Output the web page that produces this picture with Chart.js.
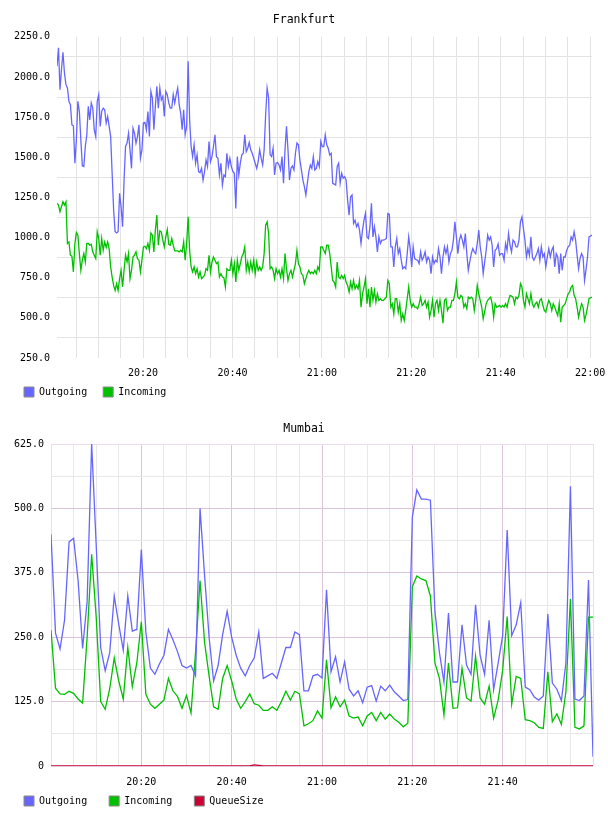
<!DOCTYPE html>
<html><head><meta charset="utf-8">
<script src="https://cdn.jsdelivr.net/npm/chart.js@4.4.1/dist/chart.umd.min.js"></script>
<style>
html,body{margin:0;padding:0;background:#fff;}
canvas{display:block;}
</style></head>
<body>
<canvas id="frankfurt" width="608" height="408"></canvas>
<canvas id="mumbai" width="608" height="408"></canvas>
<script>
// ---------- data ----------
const seriesNames = ['Outgoing', 'Incoming', 'QueueSize'];
const FRANKFURT_START_MIN = 0.75;   // minutes after 20:00 (20:00:45)
const FRANKFURT_STEP_MIN = 1 / 3;   // 20 s samples
const frankfurtOutgoing = [
2067,2181,1921,2046,2154,2025,1952,1931,1848,1827,
1702,1696,1463,1608,1848,1785,1608,1446,1442,1567,
1640,1817,1733,1838,1806,1671,1629,1848,1890,1692,
1785,1806,1796,1713,1754,1692,1629,1400,1171,1036,
1029,1036,1275,1192,1067,1358,1567,1588,1650,1546,
1431,1681,1650,1588,1629,1702,1494,1546,1713,1717,
1671,1785,1629,1910,1869,1671,1817,1942,1806,1931,
1858,1879,1754,1910,1890,1838,1806,1806,1890,1838,
1890,1931,1827,1775,1671,1796,1640,1692,2098,
1733,1567,1504,1577,1463,1515,1411,1404,1431,1358,
1411,1483,1442,1598,1473,1504,1567,1640,1504,1494,
1390,1463,1327,1390,1379,1525,1442,1494,1442,1411,
1400,1181,1504,1390,1463,1515,1525,1640,1535,1556,
1592,1546,1525,1494,1463,1431,1473,1546,1494,1452,
1546,1765,1931,1869,1515,1504,1556,1390,1463,1467,
1452,1421,1504,1338,1546,1692,1546,1358,1431,1446,
1421,1525,1588,1577,1483,1421,1358,1317,1265,1338,
1411,1452,1431,1504,1421,1431,1473,1442,1598,
1567,1567,1640,1577,1556,1515,1525,1338,1333,1327,
1442,1463,1338,1400,1369,1379,1358,1233,1140,1254,
1265,1088,1108,1067,1088,1046,963,1046,1108,1150,
1004,994,1067,1213,1004,1067,1004,911,1004,963,
984,984,988,994,1150,1146,942,942,817,942,
994,900,931,859,806,817,806,900,1004,931,
817,942,869,863,859,838,911,859,879,911,
848,879,859,775,879,838,859,848,931,879,
775,879,942,900,942,848,900,921,
984,1098,1004,900,984,1015,984,942,1025,900,
796,850,900,931,911,900,963,1046,942,879,
775,850,921,1015,984,1004,952,817,921,931,
960,890,900,900,859,963,921,1025,952,910,
984,973,942,942,984,1098,1129,1056,984,879,
930,890,1004,879,859,879,900,931,859,942,
880,900,817,879,931,879,921,942,817,900,
879,775,900,796,879,879,920,942,952,1004,
984,1036,984,890,806,870,900,879,733,800,
879,1004,1010,1015
];
const frankfurtIncoming = [
1213,1202,1161,1192,1223,1202,1223,963,973,
890,884,786,963,1031,1015,900,796,859,900,
848,963,963,952,958,911,890,869,1036,994,
890,994,921,973,938,973,931,817,754,702,
671,713,671,744,796,692,796,890,848,900,
744,796,879,890,911,869,859,786,859,942,
946,931,963,921,1029,1015,911,1046,1140,952,
1042,1036,984,942,1004,1050,958,952,994,952,
917,917,917,911,921,911,973,859,963,1129,
921,817,786,817,775,806,754,786,744,754,
765,806,796,890,786,848,879,859,838,848,
754,775,754,750,692,806,796,796,859,775,
838,723,859,796,838,879,900,942,796,848,
786,848,796,859,775,848,796,817,796,817,
900,1077,1098,1025,806,817,796,744,806,775,
796,754,806,744,900,806,733,775,796,754,
796,838,921,838,817,775,765,713,744,775,
796,775,786,775,796,775,817,796,942,
942,921,900,952,952,900,817,733,723,692,
848,754,744,765,744,765,723,702,661,723,
681,733,681,702,681,733,567,650,692,744,
588,681,567,692,609,671,598,650,609,619,
609,609,619,629,733,713,567,588,525,619,
619,536,588,484,525,484,546,619,692,609,
567,588,567,567,557,588,629,577,588,609,
567,598,504,546,609,504,588,609,546,609,
546,467,609,619,546,567,567,609,
609,650,723,629,619,640,629,567,588,557,
629,620,629,619,546,609,702,650,609,567,
494,540,588,609,619,629,588,504,588,567,
570,577,567,577,567,588,567,609,640,635,
629,588,629,619,640,713,692,609,567,650,
620,588,650,588,567,588,598,567,609,619,
580,546,536,577,609,588,546,588,567,540,
515,588,473,567,577,588,620,650,661,692,
702,640,619,567,504,550,588,567,484,520,
567,619,625,629
];

const MUMBAI_START_MIN = 0;   // 20:00
const MUMBAI_STEP_MIN = 1;    // 1 min samples
const mumbaiOutgoing = [
450,258,227,283,435,442,360,228,320,625,
430,230,185,220,330,275,225,330,262,265,
420,260,190,178,198,215,265,245,222,195,
190,195,175,500,370,250,165,195,255,300,
250,215,190,175,195,210,260,170,175,180,
170,200,230,230,260,255,146,146,175,178,
171,342,183,212,163,202,149,136,146,123,
153,156,126,155,146,157,144,136,127,129,
483,536,518,518,516,300,220,163,297,163,
163,274,196,178,313,215,178,283,148,200,
253,458,253,274,317,153,148,134,128,136,
295,161,149,127,200,543,130,127,136,361,
18
];
const mumbaiIncoming = [
264,151,140,139,145,141,130,122,250,411,
290,125,110,150,210,165,130,230,154,200,
280,139,120,112,120,128,170,146,135,112,
137,103,220,360,240,175,115,110,170,195,
165,130,112,125,140,121,118,108,108,115,
108,125,145,128,145,140,78,82,88,107,
93,206,113,134,115,128,97,93,95,78,
97,104,88,104,91,101,91,85,76,83,
348,369,363,360,330,200,170,99,200,112,
113,190,132,126,213,132,120,155,93,128,
186,290,120,174,170,90,88,84,75,73,
183,86,101,81,144,324,75,72,78,289,
289
];
const mumbaiQueueSize = [
0,0,0,0,0,0,0,0,0,0,
0,0,0,0,0,0,0,0,0,0,
0,0,0,0,0,0,0,0,0,0,
0,0,0,0,0,0,0,0,0,0,
0,0,0,0,0,2,1,0,0,0,
0,0,0,0,0,0,0,0,0,0,
0,0,0,0,0,0,0,0,0,0,
0,0,0,0,0,0,0,0,0,0,
0,0,0,0,0,0,0,0,0,0,
0,0,0,0,0,0,0,0,0,0,
0,0,0,0,0,0,0,0,0,0,
0,0,0,0,0,0,0,0,0,0,
0
];

// axis ticks (minutes after 20:00) and labels
const gridMinutes = [0,5,10,15,20,25,30,35,40,45,50,55,60,65,70,75,80,85,90,95,100,105,110,115,120];
const timeLabelMinutes = [20, 40, 60, 80, 100, 120];
const timeLabels = ['20:20', '20:40', '21:00', '21:20', '21:40', '22:00'];
const frankfurtYTicks = [250, 500, 750, 1000, 1250, 1500, 1750, 2000, 2250];
const mumbaiYGrid = [0, 62.5, 125, 187.5, 250, 312.5, 375, 437.5, 500, 562.5, 625];
const mumbaiYLabelValues = [0, 125, 250, 375, 500, 625];
const mumbaiYLabels = ['0', '125.0', '250.0', '375.0', '500.0', '625.0'];

// ---------- styling ----------
const FONT = 'DejaVu Sans Mono';
const BLUE = '#6666ff', GREEN = '#00c000', RED = '#cc0033';
Chart.defaults.font.family = FONT;

// let the x tick labels draw below the (thin) x-axis box without being clipped
const unclipXLabels = {
  id: 'unclipXLabels',
  afterLayout(chart) {
    const x = chart.scales.x;
    x.bottom = Math.max(x.bottom, x.top + 26);
  }
};

function toPoints(values, start, step) {
  return values.map((v, i) => ({ x: start + i * step, y: v }));
}
function legendLabels(chart) {
  return chart.data.datasets.map((ds, i) => ({
    text: ds.label, fillStyle: ds.borderColor, strokeStyle: '#8a8a8a',
    lineWidth: 1, hidden: false, datasetIndex: i, fontColor: '#000'
  }));
}
function timeLabel(v, allowed) {
  const i = timeLabelMinutes.indexOf(v);
  return (i >= 0 && allowed.includes(v)) ? timeLabels[i] : '';
}

function buildChart(id, c) {
  return new Chart(document.getElementById(id), {
    type: 'line',
    data: { datasets: c.datasets },
    plugins: [unclipXLabels],
    options: {
      responsive: false, animation: false, devicePixelRatio: 1,
      events: [],
      layout: { padding: { left: c.sidePad, right: c.sidePad, top: 0, bottom: c.bottomPad } },
      elements: { point: { radius: 0 }, line: { borderWidth: 1.3, tension: 0 } },
      plugins: {
        title: { display: true, text: c.title, color: '#000',
          font: { family: FONT, size: 11.5, weight: 'normal' },
          padding: { top: c.titleTop, bottom: c.titleBottom } },
        legend: { position: 'bottom', align: 'start',
          labels: { boxWidth: 10, boxHeight: 10, padding: c.legendPad, color: '#000',
            font: { family: FONT, size: 10 }, generateLabels: legendLabels } },
        tooltip: { enabled: false }
      },
      scales: {
        x: {
          type: 'linear', min: c.xMin, max: c.xMax,
          afterBuildTicks: s => { s.ticks = c.xGrid.map(v => ({ value: v })); },
          afterFit: s => { s.height = c.xAxisHeight; s.paddingLeft = 0; s.paddingRight = c.rightPad; },
          ticks: { autoSkip: false, maxRotation: 0, minRotation: 0, padding: c.xTickPad, color: '#000',
            font: { family: FONT, size: 10 }, callback: v => timeLabel(v, c.xLabelled) },
          grid: { drawTicks: false, color: c.xGridColor, lineWidth: 1 },
          border: { display: false }
        },
        y: c.y
      }
    }
  });
}

// Frankfurt
buildChart('frankfurt', {
  title: 'Frankfurt',
  datasets: [
    { label: seriesNames[0], data: toPoints(frankfurtOutgoing, FRANKFURT_START_MIN, FRANKFURT_STEP_MIN), borderColor: BLUE, backgroundColor: BLUE },
    { label: seriesNames[1], data: toPoints(frankfurtIncoming, FRANKFURT_START_MIN, FRANKFURT_STEP_MIN), borderColor: GREEN, backgroundColor: GREEN }
  ],
  sidePad: 8, bottomPad: 1, rightPad: 16, legendPad: 16,
  titleTop: 13.5, titleBottom: 9.5,
  xMin: FRANKFURT_START_MIN,
  xMax: FRANKFURT_START_MIN + (frankfurtOutgoing.length - 1) * FRANKFURT_STEP_MIN,
  xGrid: gridMinutes.filter(v => v >= 5),
  xLabelled: [20, 40, 60, 80, 100, 120],
  xAxisHeight: 13, xTickPad: 9,
  xGridColor: '#e3e3e3',
  y: {
    type: 'linear', min: 250, max: 2250,
    afterBuildTicks: s => { s.ticks = frankfurtYTicks.map(v => ({ value: v })); },
    afterFit: s => { s.width = 49; },
    ticks: { padding: 7, color: '#000', font: { family: FONT, size: 10 }, callback: v => v.toFixed(1) },
    grid: { drawTicks: false, offset: true, color: '#e3e3e3', lineWidth: 1 },
    border: { display: false }
  }
});

// Mumbai
const PINK_MAJOR = '#dcc4dc', PINK_EDGE = '#eedcee', GREY = '#e8e8e8';
buildChart('mumbai', {
  title: 'Mumbai',
  datasets: [
    { label: seriesNames[0], data: toPoints(mumbaiOutgoing, MUMBAI_START_MIN, MUMBAI_STEP_MIN), borderColor: BLUE, backgroundColor: BLUE },
    { label: seriesNames[1], data: toPoints(mumbaiIncoming, MUMBAI_START_MIN, MUMBAI_STEP_MIN), borderColor: GREEN, backgroundColor: GREEN },
    { label: seriesNames[2], data: toPoints(mumbaiQueueSize, MUMBAI_START_MIN, MUMBAI_STEP_MIN), borderColor: RED, backgroundColor: RED }
  ],
  sidePad: 2, bottomPad: 0, rightPad: 15, legendPad: 22,
  titleTop: 14, titleBottom: 8.2,
  xMin: MUMBAI_START_MIN,
  xMax: MUMBAI_START_MIN + (mumbaiOutgoing.length - 1) * MUMBAI_STEP_MIN,
  xGrid: gridMinutes,
  xLabelled: [20, 40, 60, 80, 100],
  xAxisHeight: 8, xTickPad: 10,
  xGridColor: ctx => {
    const v = ctx.tick ? ctx.tick.value : -1;
    if (v === 0 || v === 120) return PINK_EDGE;
    return v % 20 === 0 ? PINK_MAJOR : GREY;
  },
  y: {
    type: 'linear', min: 0, max: 625,
    afterBuildTicks: s => { s.ticks = mumbaiYGrid.map(v => ({ value: v })); },
    afterFit: s => { s.width = 49; },
    ticks: { padding: 7, color: '#000', font: { family: FONT, size: 10 },
      callback: v => { const i = mumbaiYLabelValues.indexOf(v); return i >= 0 ? mumbaiYLabels[i] : ''; } },
    grid: { drawTicks: false, lineWidth: 1,
      color: ctx => {
        const v = ctx.tick ? ctx.tick.value : -1;
        if (v === 625) return PINK_EDGE;
        return v % 125 === 0 ? PINK_MAJOR : GREY;
      } },
    border: { display: false }
  }
});
</script>
</body></html>
